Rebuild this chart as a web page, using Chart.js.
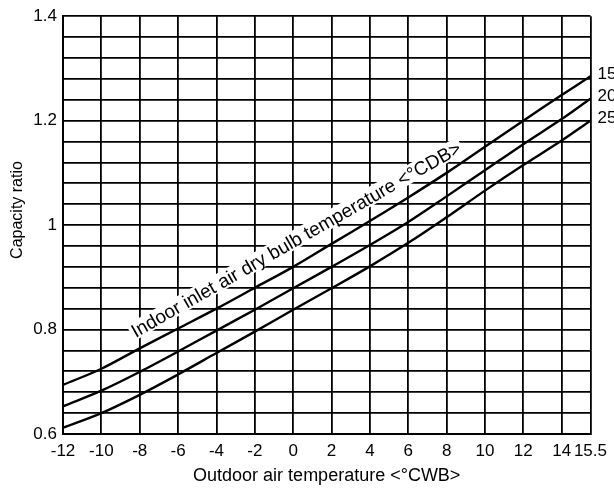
<!DOCTYPE html>
<html>
<head>
<meta charset="utf-8">
<script src="https://cdn.jsdelivr.net/npm/chart.js@4.4.1/dist/chart.umd.min.js"></script>
<style>
  html, body { margin: 0; padding: 0; background: #fff; }
</style>
</head>
<body>
<canvas id="chartCapacidad" width="614" height="494"></canvas>
<script>
    // Temperatura exterior (°CWB) donde se leyeron las curvas
    const temperaturas = [-12, -10, -8, -6, -4, -2, 0, 2, 4, 6, 8, 10, 12, 14, 15.5];

    // Marcas del eje X
    const ticksX = [-12, -10, -8, -6, -4, -2, 0, 2, 4, 6, 8, 10, 12, 14, 15.5];

    // Relacion de capacidad para cada temperatura interior (°CDB)
    const curva15 = [0.694, 0.725, 0.764, 0.802, 0.840, 0.880, 0.920, 0.964, 1.008, 1.053, 1.100, 1.150, 1.200, 1.249, 1.285];
    const curva20 = [0.653, 0.683, 0.719, 0.758, 0.798, 0.838, 0.879, 0.920, 0.962, 1.006, 1.055, 1.105, 1.155, 1.203, 1.242];
    const curva25 = [0.612, 0.640, 0.675, 0.714, 0.755, 0.796, 0.838, 0.879, 0.921, 0.966, 1.015, 1.066, 1.115, 1.162, 1.200];

    const nombresCurvas = ["15", "20", "25"];

    const fuente = '"Liberation Sans", Arial, sans-serif';

    function puntos(valores) {
        return temperaturas.map((t, i) => ({ x: t, y: valores[i] }));
    }

    function serie(nombre, valores) {
        return {
            label: nombre,
            data: puntos(valores),
            borderColor: "#000",
            borderWidth: 2.4,
            pointRadius: 0,
            fill: false,
            tension: 0.35,
        };
    }

    // Texto inclinado, titulo vertical y numeros al final de cada curva
    const rotulos = {
        id: "rotulos",
        afterDatasetsDraw(chart) {
            const { ctx, chartArea, scales: { x, y } } = chart;
            ctx.save();
            ctx.fillStyle = "#000";

            ctx.font = "17px " + fuente;
            ctx.textBaseline = "middle";
            ctx.textAlign = "left";
            chart.data.datasets.forEach((ds) => {
                const ultimo = ds.data[ds.data.length - 1];
                ctx.fillText(ds.label, chartArea.right + 7, y.getPixelForValue(ultimo.y) - 2);
            });

            // titulo del eje Y
            ctx.save();
            ctx.translate(18, 210);
            ctx.rotate(-Math.PI / 2);
            ctx.textAlign = "center";
            ctx.font = "16px " + fuente;
            ctx.fillText("Capacity ratio", 0, 0);
            ctx.restore();

            const x0 = x.getPixelForValue(-6), y0 = y.getPixelForValue(curva15[3]);
            const x1 = x.getPixelForValue(6), y1 = y.getPixelForValue(curva15[9]);
            const angulo = Math.atan2(y1 - y0, x1 - x0);

            const texto = "Indoor inlet air dry bulb temperature <°CDB>";
            ctx.translate(x.getPixelForValue(-7.95), y.getPixelForValue(0.767));
            ctx.rotate(angulo);
            ctx.font = "19px " + fuente;
            const ancho = ctx.measureText(texto).width;
            ctx.fillStyle = "#fff";
            ctx.fillRect(-2, -26, ancho + 4, 18);
            ctx.fillStyle = "#000";
            ctx.textBaseline = "alphabetic";
            ctx.fillText(texto, 0, -10);
            ctx.restore();
        }
    };

    const configCapacidad = {
        type: "line",
        data: {
            datasets: [
                serie(nombresCurvas[0], curva15),
                serie(nombresCurvas[1], curva20),
                serie(nombresCurvas[2], curva25),
            ],
        },
        options: {
            responsive: false,
            animation: false,
            layout: { padding: { top: 15, right: 20, left: 0, bottom: 0 } },
            plugins: {
                legend: { display: false },
                tooltip: { enabled: false },
            },
            scales: {
                x: {
                    type: "linear",
                    min: -12,
                    max: 15.5,
                    afterBuildTicks: (s) => { s.ticks = ticksX.map(v => ({ value: v })); },
                    afterFit: (s) => { s.height = 60; },
                    ticks: {
                        autoSkip: false,
                        maxRotation: 0,
                        padding: 7,
                        color: "#000",
                        font: { family: fuente, size: 17 },
                        callback: (v) => String(v),
                    },
                    grid: { color: "#000", lineWidth: 1.8, drawTicks: false },
                    border: { color: "#000", width: 2 },
                    title: {
                        display: true,
                        text: "Outdoor air temperature <°CWB>",
                        color: "#000",
                        font: { family: fuente, size: 18 },
                        padding: { top: 0, bottom: 7 },
                    },
                },
                y: {
                    min: 0.6,
                    max: 1.4,
                    afterFit: (s) => { s.width = 63; },
                    ticks: {
                        stepSize: 0.04,
                        autoSkip: false,
                        padding: 6,
                        color: "#000",
                        font: { family: fuente, size: 17 },
                        callback: (v) => {
                            const c = Math.round(v * 100);
                            return c % 20 === 0 ? String(c / 100) : "";
                        },
                    },
                    grid: { color: "#000", lineWidth: 1.8, drawTicks: false },
                    border: { color: "#000", width: 2 },
                },
            },
        },
        plugins: [rotulos],
    };

    var chartCapacidad = new Chart(
        document.getElementById("chartCapacidad"),
        configCapacidad
    );
</script>
</body>
</html>
